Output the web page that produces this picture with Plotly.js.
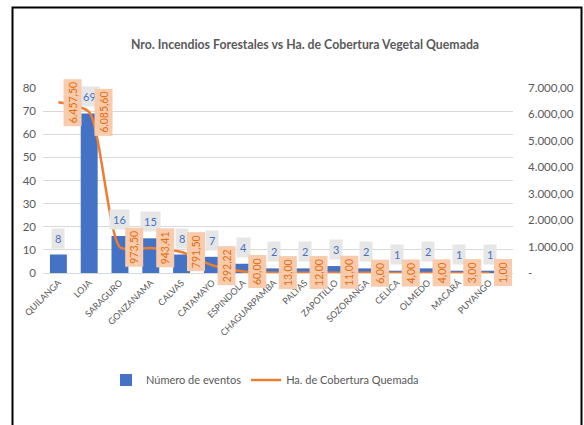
<!DOCTYPE html>
<html>
<head>
<meta charset="utf-8">
<script src="https://cdn.plot.ly/plotly-3.0.1.min.js"></script>
<style>
html,body{margin:0;padding:0;background:#fff;}
#chart{width:584px;height:425px;}
</style>
</head>
<body>
<div id="chart"></div>
<script>
var categories = ["QUILANGA","LOJA","SARAGURO","GONZANAMA","CALVAS","CATAMAYO","ESPINDOLA","CHAGUARPAMBA","PALTAS","ZAPOTILLO","SOZORANGA","CELICA","OLMEDO","MACARÁ","PUYANGO"];
var eventos = [8,69,16,15,8,7,4,2,2,3,2,1,2,1,1];
var hectareas = [6457.50,6085.60,973.50,943.41,791.50,292.22,60.00,13.00,12.00,11.00,6.00,4.00,4.00,3.00,1.00];
var leftTicks = [0,10,20,30,40,50,60,70,80];
var rightTickVals = [0,1000,2000,3000,4000,5000,6000,7000];
var rightTickText = ["-","1.000,00","2.000,00","3.000,00","4.000,00","5.000,00","6.000,00","7.000,00"];

function fmt(v){
  var s = v.toFixed(2).split(".");
  var ip = s[0].replace(/\B(?=(\d{3})+(?!\d))/g, ".");
  return ip + "," + s[1];
}

var FONT = "Lato, 'Open Sans', sans-serif";
var GRAY = "#595959";

var traces = [
  {type:"bar", name:"Número de eventos", x:categories, y:eventos,
   marker:{color:"#4472c4"}, hoverinfo:"x+y"},
  {type:"scatter", mode:"lines", name:"Ha. de Cobertura Quemada", x:categories, y:hectareas,
   yaxis:"y2", line:{color:"#ed7d31", width:2.5, shape:"spline", smoothing:0.6}}
];

var ann = [];
categories.forEach(function(c,i){
  ann.push({x:c, y:eventos[i], xref:"x", yref:"y", text:String(eventos[i]),
    showarrow:false, yanchor:"bottom", yshift:6, bgcolor:"#e7e6e6", borderpad:3,
    font:{family:FONT, size:11, color:"#4472c4"}});
});
categories.forEach(function(c,i){
  ann.push({x:c, y:hectareas[i], xref:"x", yref:"y2", text:fmt(hectareas[i]),
    showarrow:false, xanchor:"center", yanchor:"middle", xshift:14, textangle:-90,
    bgcolor:"#f8cbad", borderpad:2.5,
    font:{family:FONT, size:10.5, color:"#e46c0a"}});
});

var L=43, R=71, T=88, B=152, PW=584-L-R, PH=425-T-B;
function px2x(p){return (p-L)/PW;}
function py2y(p){return (425-B-p)/PH;}

var layout = {
  width:584, height:425,
  margin:{l:L, r:R, t:T, b:B, pad:0, autoexpand:false},
  paper_bgcolor:"#ffffff", plot_bgcolor:"#ffffff",
  separators:",.",
  font:{family:FONT, color:GRAY},
  title:{text:"<b>Nro. Incendios Forestales vs Ha. de Cobertura Vegetal Quemada</b>",
    font:{family:FONT, size:12.3, color:GRAY}, x:305/584, xref:"container", xanchor:"center",
    y:1-45/425, yref:"container", yanchor:"middle"},
  bargap:0.45,
  showlegend:true,
  legend:{orientation:"h", x:106/584, xref:"container", xanchor:"left", y:1-380/425, yref:"container", yanchor:"middle",
    font:{family:FONT, size:11, color:GRAY}, itemwidth:30, tracegroupgap:0},
  xaxis:{type:"category", tickangle:-45, tickfont:{family:FONT, size:9, color:GRAY},
    showgrid:false, showline:true, linecolor:"#d9d9d9", linewidth:1, ticks:"", automargin:false},
  yaxis:{range:[0,80], tickvals:leftTicks, showgrid:true, gridcolor:"#d9d9d9", gridwidth:1,
    zeroline:true, zerolinecolor:"#d9d9d9", showline:false, ticks:"",
    tickfont:{family:FONT, size:11.5, color:GRAY}, ticklabelstandoff:6, automargin:false},
  yaxis2:{range:[0,7000], overlaying:"y", side:"right", tickvals:rightTickVals, ticktext:rightTickText,
    showgrid:false, zeroline:false, showline:false, ticks:"",
    tickfont:{family:FONT, size:11.5, color:GRAY}, ticklabelstandoff:14, automargin:false},
  annotations:ann,
  shapes:[{type:"rect", xref:"paper", yref:"paper",
    x0:px2x(12.5), x1:px2x(581.5), y0:py2y(440), y1:py2y(7.5),
    line:{color:"#000000", width:2}, fillcolor:"rgba(0,0,0,0)", layer:"above"}]
};

Plotly.newPlot("chart", traces, layout, {displayModeBar:false, responsive:false});
</script>
</body>
</html>
